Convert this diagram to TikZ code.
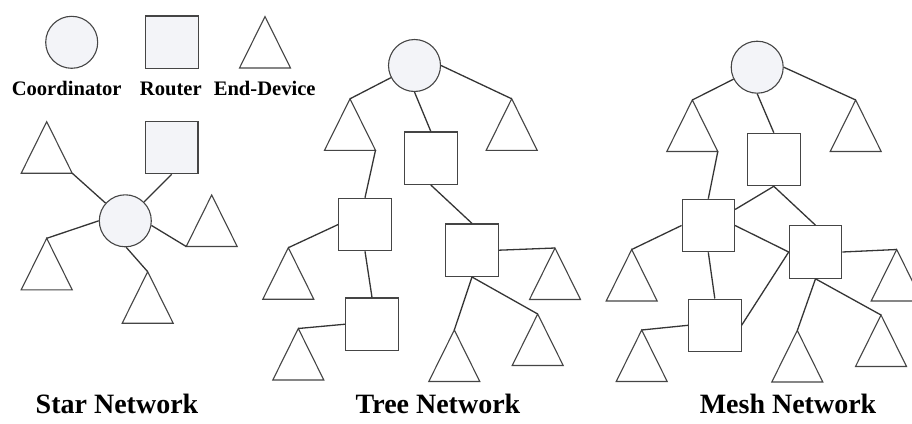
\documentclass[tikz,border=0pt]{standalone}
\usepackage{fontspec}
\setmainfont{Liberation Serif}
\usetikzlibrary{calc}
\definecolor{edge}{HTML}{353535}
\definecolor{shapeline}{HTML}{454545}
\definecolor{cfill}{HTML}{F3F4F8}
\tikzset{
  link/.style={draw=edge, line width=1.3pt},
  coordnode/.style={circle, draw=shapeline, line width=1.1pt, fill=cfill,
    minimum size=52pt, inner sep=0pt},
  routernode/.style={rectangle, draw=shapeline, line width=1.1pt, fill=white,
    minimum size=52.5pt, inner sep=0pt},
  devshape/.style={draw=shapeline, line width=1.1pt, fill=white, line join=miter},
  legendtext/.style={font=\fontsize{20.6}{24}\selectfont\bfseries, inner sep=0pt, anchor=base},
  titletext/.style={font=\fontsize{28}{32}\selectfont\bfseries, inner sep=0pt, anchor=base},
}
% end device: triangle named by its apex, with named base corners
\newcommand\devtri[3]{%
  \coordinate (#1) at (#2,#3);
  \coordinate (#1-l) at ($(#1)+(-25.5,51.5)$);
  \coordinate (#1-r) at ($(#1)+(25.5,51.5)$);
  \draw[devshape] (#1) -- (#1-l) -- (#1-r) -- cycle;}
\begin{document}
\begin{tikzpicture}[x=1pt, y=-1pt]
\useasboundingbox (0,0) rectangle (912,423);

% ---------- legend ----------
\node[coordnode] (legC) at (71.7,42.3) {};
\node[routernode, fill=cfill] (legR) at (172,42.2) {};
\devtri{legE}{265}{16.5}
\node[legendtext] (legCt) at (66.7,95.7) {Coordinator};
\node[legendtext] (legRt) at (170.8,95.7) {Router};
\node[legendtext] (legEt) at (264.7,95.7) {End-Device};

% ---------- star network ----------
\node[coordnode] (S0) at (125.3,220.8) {};
\node[routernode, fill=cfill] (sR) at (171.7,147.5) {};
\devtri{sA}{46.7}{121.7}
\devtri{sB}{211.7}{195}
\devtri{sC}{46.7}{238.3}
\devtri{sD}{147.7}{271.7}
\draw[link] (sA-r) -- (S0);
\draw[link] (sR.south) -- (S0);
\draw[link] (S0.-10) -- (sB-l);
\draw[link] (S0.west) -- (sC);
\draw[link] (S0.-88) -- (sD);
\node[titletext] (starT) at (117,413) {Star Network};

% ---------- tree network ----------
\node[coordnode] (tC) at (414.5,65.5) {};
\devtri{tA}{350}{98.8}
\devtri{tB}{511.7}{98.8}
\node[routernode] (tR1) at (430.8,158.2) {};
\node[routernode] (tR2) at (365,224.5) {};
\node[routernode] (tR3) at (472,250.2) {};
\node[routernode] (tR4) at (372,324.2) {};
\devtri{tD3}{288.3}{247.7}
\devtri{tD4}{298.3}{328.5}
\devtri{tD5}{555}{248}
\devtri{tD6}{454.3}{330}
\devtri{tD7}{537.7}{314}
\draw[link] (tA) -- (tC);
\draw[link] (tC.east) -- (tB);
\draw[link] (tC.south) -- (tR1.north);
\draw[link] (tA-r) -- (tR2.north);
\draw[link] (tR1.south) -- (tR3.north);
\draw[link] (tR2.west) -- (tD3);
\draw[link] (tR2.south) -- (tR4.north);
\draw[link] (tR4.west) -- (tD4);
\draw[link] (tR3.east) -- (tD5);
\draw[link] (tR3.south) -- (tD6);
\draw[link] (tR3.south) -- (tD7);
\node[titletext] (treeT) at (438,413) {Tree Network};

% ---------- mesh network ----------
\node[coordnode] (mC) at (757.2,67.2) {};
\devtri{mA}{692.3}{100}
\devtri{mB}{855.7}{100}
\node[routernode] (mR1) at (773.8,159.5) {};
\node[routernode] (mR2) at (708.3,225.5) {};
\node[routernode] (mR3) at (815.5,252) {};
\node[routernode] (mR4) at (714.8,325.3) {};
\devtri{mD3}{631.7}{249.5}
\devtri{mD4}{641.7}{330}
\devtri{mD5}{896.7}{249.5}
\devtri{mD6}{797.3}{330.5}
\devtri{mD7}{881}{315}
\draw[link] (mA) -- (mC);
\draw[link] (mC.east) -- (mB);
\draw[link] (mC.south) -- (mR1.north);
\draw[link] (mA-r) -- (mR2.north);
\draw[link] (mR1.south) -- (mR2);
\draw[link] (mR1.south) -- (mR3.north);
\draw[link] (mR2.east) -- (mR3.west);
\draw[link] (mR2.west) -- (mD3);
\draw[link] (mR2.south) -- (mR4.north);
\draw[link] (mR4.east) -- (mR3.west);
\draw[link] (mR4.west) -- (mD4);
\draw[link] (mR3.east) -- (mD5);
\draw[link] (mR3.south) -- (mD6);
\draw[link] (mR3.south) -- (mD7);
\node[titletext] (meshT) at (788,413) {Mesh Network};
\end{tikzpicture}
\end{document}
